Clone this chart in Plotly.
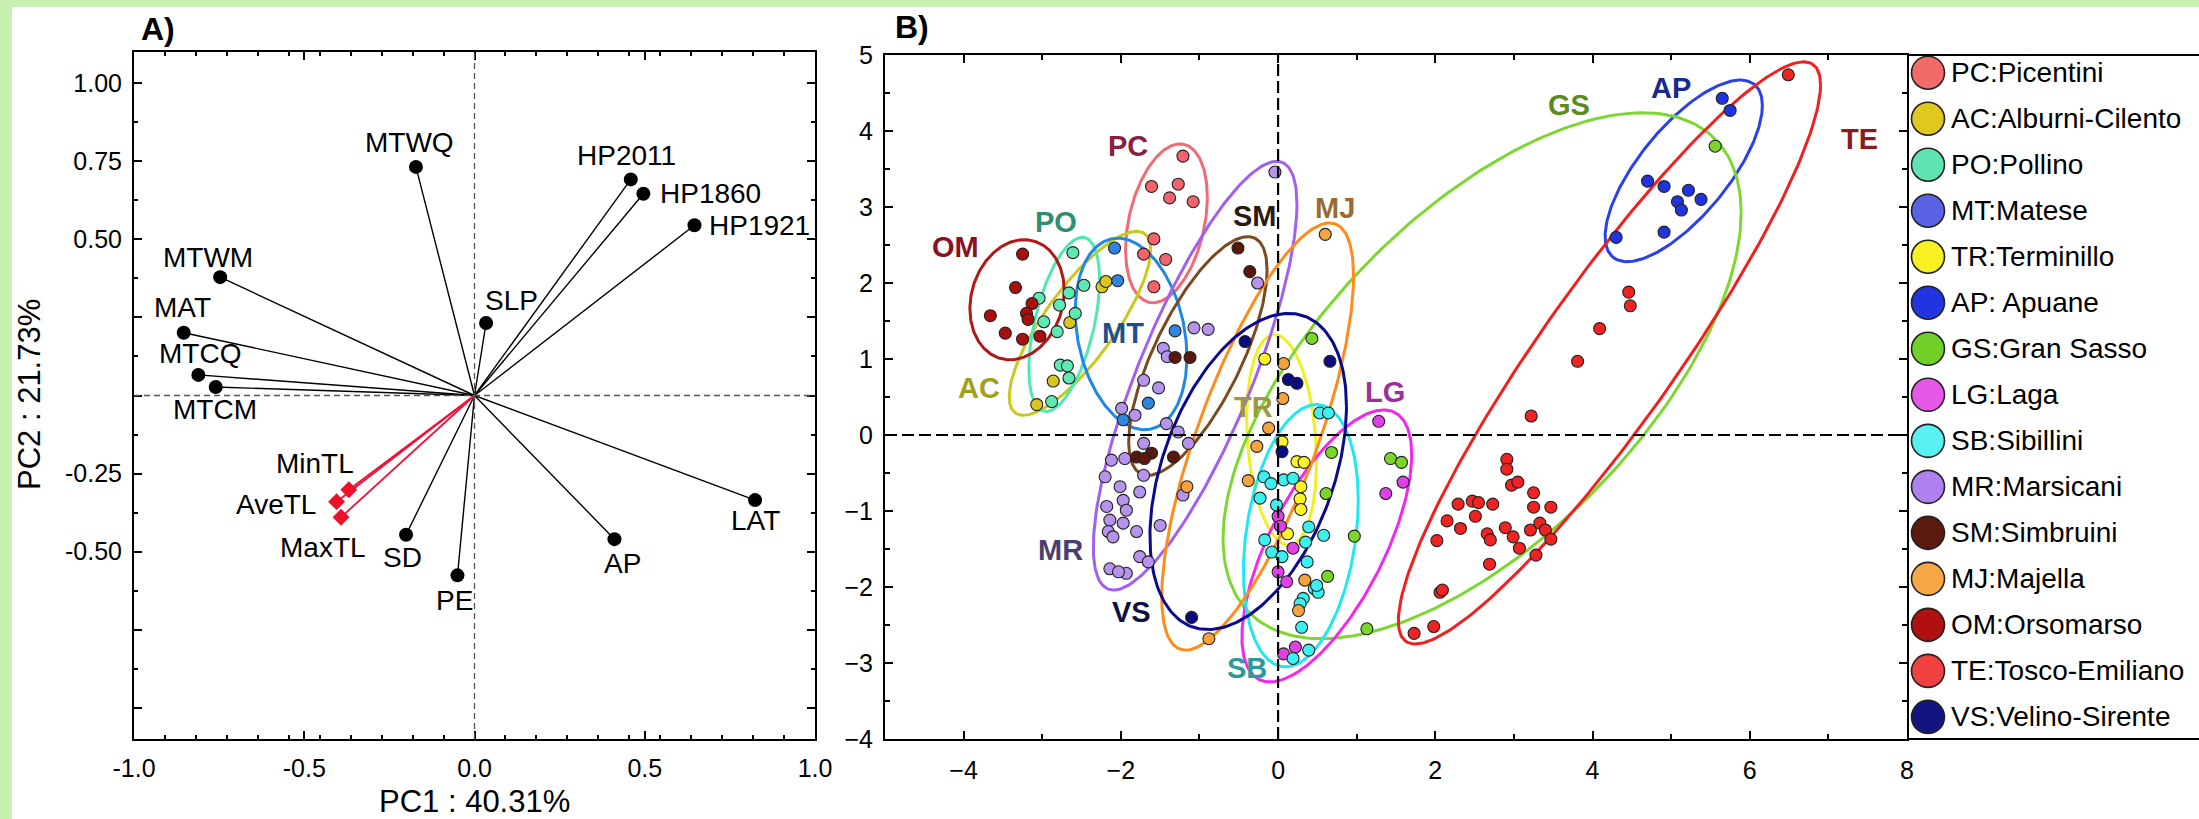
import numpy as np
import plotly.graph_objects as go

W, H = 2199, 819

# ---------------- Panel A data (loadings) ----------------
var_names = ["MTWQ", "HP2011", "HP1860", "HP1921", "MTWM", "SLP", "MAT", "MTCQ", "MTCM", "SD", "PE", "AP", "LAT"]
var_pc1 = [-0.172, 0.459, 0.496, 0.646, -0.747, 0.034, -0.854, -0.811, -0.760, -0.201, -0.050, 0.411, 0.824]
var_pc2 = [0.732, 0.692, 0.646, 0.545, 0.379, 0.232, 0.201, 0.066, 0.027, -0.446, -0.576, -0.460, -0.335]
tl_names = ["MinTL", "AveTL", "MaxTL"]
tl_pc1 = [-0.369, -0.405, -0.392]
tl_pc2 = [-0.302, -0.340, -0.390]

# ---------------- Panel B data (scores) ----------------
group_codes = ["PC", "AC", "PO", "MT", "TR", "AP", "GS", "LG", "SB", "MR", "SM", "MJ", "OM", "TE", "VS"]
legend_names = ["PC:Picentini", "AC:Alburni-Cilento", "PO:Pollino", "MT:Matese", "TR:Terminillo",
                "AP: Apuane", "GS:Gran Sasso", "LG:Laga", "SB:Sibillini", "MR:Marsicani",
                "SM:Simbruini", "MJ:Majella", "OM:Orsomarso", "TE:Tosco-Emiliano", "VS:Velino-Sirente"]

PC_x = [-1.21, -1.61, -1.27, -1.38, -1.08, -1.58, -1.71, -1.43, -1.58]
PC_y = [3.67, 3.27, 3.30, 3.12, 3.07, 2.58, 2.38, 2.31, 1.95]
AC_x = [-2.24, -2.19, -2.65, -2.86, -3.07]
AC_y = [1.95, 2.02, 1.48, 0.71, 0.40]
PO_x = [-2.61, -2.47, -3.04, -2.66, -2.78, -2.58, -2.98, -2.81, -2.77, -2.68, -2.66, -2.88]
PO_y = [2.40, 1.97, 1.80, 1.87, 1.71, 1.60, 1.49, 1.36, 0.92, 0.91, 0.75, 0.44]
MT_x = [-2.08, -2.04, -1.31, -1.65, -1.97]
MT_y = [2.46, 2.03, 1.37, 0.42, 0.20]
TR_x = [-0.17, 0.05, 0.24, 0.33, 0.29, 0.28, 0.29, 0.12]
TR_y = [1.00, -0.09, -0.35, -0.36, -0.68, -0.84, -0.98, -1.30]
AP_x = [5.65, 5.75, 4.70, 4.91, 5.22, 5.38, 5.08, 5.13, 4.91, 4.30]
AP_y = [4.43, 4.27, 3.34, 3.27, 3.22, 3.10, 3.07, 2.96, 2.67, 2.60]
GS_x = [5.56, 0.43, 0.68, 1.43, 1.57, 0.61, 0.97, 0.63, 1.13]
GS_y = [3.80, 1.27, -0.23, -0.31, -0.36, -0.77, -1.33, -1.86, -2.55]
LG_x = [1.28, 1.59, 1.37, 0.00, 0.03, 0.19, 0.00, 0.11, 0.07, 0.22]
LG_y = [0.18, -0.62, -0.77, -1.07, -1.20, -1.49, -1.80, -1.93, -2.88, -2.79]
SB_x = [0.53, 0.64, -0.18, -0.09, 0.07, 0.19, -0.23, -0.02, 0.39, 0.58, -0.17, -0.08,
        0.05, 0.35, 0.37, 0.46, 0.51, 0.49, 0.32, 0.28, 0.30, 0.39, 0.19]
SB_y = [0.29, 0.29, -0.55, -0.64, -0.59, -0.57, -0.83, -0.92, -1.21, -1.32, -1.38, -1.54,
        -1.60, -1.41, -1.67, -2.02, -2.07, -1.98, -2.15, -2.22, -2.53, -2.83, -2.94]
MR_x = [-0.04, -0.26, -1.07, -0.89, -1.46, -1.41, -1.71, -1.52, -1.99, -1.82, -1.42, -1.27,
        -1.14, -1.71, -2.12, -1.95, -2.20, -1.71, -2.01, -1.76, -1.21, -2.18, -1.97, -1.93,
        -2.14, -1.97, -1.80, -2.16, -1.50, -2.10, -1.76, -1.65, -2.14, -1.93, -2.03]
MR_y = [3.46, 2.00, 1.41, 1.39, 1.14, 1.03, 0.72, 0.62, 0.35, 0.26, 0.15, 0.04,
        -0.11, -0.11, -0.33, -0.31, -0.55, -0.53, -0.68, -0.75, -0.79, -0.94, -0.86, -0.99,
        -1.12, -1.16, -1.27, -1.27, -1.19, -1.34, -1.60, -1.67, -1.76, -1.82, -1.80]
SM_x = [-0.51, -0.36, -1.31, -1.12, -1.80, -1.61, -1.33, -1.70]
SM_y = [2.46, 2.15, 1.02, 1.02, -0.29, -0.24, -0.29, -0.31]
MJ_x = [0.60, 0.07, 0.06, -0.12, -0.27, -0.38, -1.16, 0.34, 0.26, -0.88]
MJ_y = [2.64, 0.94, 0.48, 0.09, -0.15, -0.60, -0.68, -1.91, -2.31, -2.68]
OM_x = [-3.25, -3.34, -3.66, -3.13, -3.20, -3.18, -3.47, -3.25, -3.03]
OM_y = [2.38, 1.94, 1.57, 1.73, 1.60, 1.52, 1.34, 1.26, 1.30]
TE_x = [6.49, 4.46, 4.48, 4.09, 3.81, 3.22, 2.91, 2.91, 2.97, 3.05, 3.25, 3.25, 3.47, 2.29,
        2.47, 2.55, 2.73, 2.51, 2.15, 2.32, 2.02, 2.66, 2.70, 2.89, 2.99, 3.21, 3.33, 3.40,
        3.47, 3.07, 3.28, 2.69, 2.06, 2.09, 1.98, 1.73]
TE_y = [4.74, 1.88, 1.70, 1.40, 0.97, 0.25, -0.32, -0.45, -0.66, -0.62, -0.76, -0.95, -0.95, -0.91,
        -0.87, -0.89, -0.91, -1.07, -1.13, -1.23, -1.39, -1.30, -1.38, -1.22, -1.34, -1.25, -1.16, -1.25,
        -1.37, -1.49, -1.58, -1.70, -2.07, -2.04, -2.52, -2.61]
VS_x = [-0.42, 0.66, 0.13, 0.24, 0.05, -1.10]
VS_y = [1.23, 0.97, 0.73, 0.68, -0.22, -2.40]

# confidence ellipses: centre, half-extent in x and y, and correlation-like tilt
ell_cx = [-1.42, -2.52, -2.72, -1.87, 0.045, 5.16, 2.595, 0.62, 0.29, -1.055, -1.02, -0.26, -3.32, 4.215, -0.38]
ell_cy = [2.785, 1.47, 1.455, 1.33, -0.065, 3.475, 0.78, -1.46, -1.325, 0.78, 1.04, -0.02, 1.78, 1.08, -0.48]
ell_rx = [0.52, 0.90, 0.45, 0.71, 0.445, 1.00, 3.295, 1.08, 0.73, 1.295, 0.88, 1.22, 0.60, 2.685, 1.25]
ell_ry = [1.045, 1.21, 1.145, 1.26, 1.385, 1.195, 3.46, 1.79, 1.725, 2.82, 1.57, 2.81, 0.79, 3.83, 2.08]
ell_r = [0.33, 0.80, 0.51, -0.24, -0.20, 0.72, 0.62, 0.67, 0.27, 0.80, 0.72, 0.75, 0.15, 0.92, 0.41]

# group text labels in panel B
glabel_x = [-1.91, -3.80, -2.82, -1.97, -0.31, 5.00, 3.70, 1.36, -0.40, -2.77, -0.29, 0.73, -4.10, 7.40, -1.86]
glabel_y = [3.80, 0.62, 2.80, 1.34, 0.37, 4.56, 4.34, 0.57, -3.07, -1.51, 2.88, 2.99, 2.47, 3.90, -2.33]

# ---------------- styles ----------------
FONT = "Liberation Sans, Arial, sans-serif"
point_colors = {"PC": "#F4626C", "AC": "#D9C61E", "PO": "#5EE8B2", "MT": "#2E86E0", "TR": "#FFF22A",
                "AP": "#1F33E0", "GS": "#7BD52A", "LG": "#E040E8", "SB": "#3CF0F0", "MR": "#B794EC",
                "SM": "#5A180C", "MJ": "#F5A33C", "OM": "#A8100E", "TE": "#F02222", "VS": "#0C0C80"}
legend_colors = {"PC": "#F26B6B", "AC": "#E0C81E", "PO": "#5FE3B0", "MT": "#5A63E3", "TR": "#F8F020",
                 "AP": "#2233E0", "GS": "#70D028", "LG": "#E858E8", "SB": "#58F0F0", "MR": "#B080F0",
                 "SM": "#5A1A10", "MJ": "#F5A845", "OM": "#B01010", "TE": "#F04040", "VS": "#141480"}
ellipse_colors = {"PC": "#F26A74", "AC": "#C8C81E", "PO": "#50E8B0", "MT": "#1E88E8", "TR": "#F0F020",
                  "AP": "#2A40E8", "GS": "#7CD830", "LG": "#F028F0", "SB": "#20E8F0", "MR": "#A060F0",
                  "SM": "#7B4A1E", "MJ": "#FF8C1A", "OM": "#B01818", "TE": "#F02020", "VS": "#0A0A90"}
label_colors = {"PC": "#8A2040", "AC": "#A0A020", "PO": "#2E8E70", "MT": "#1E4E8C", "TR": "#9C9A40",
                "AP": "#1A2A8A", "GS": "#5A8A20", "LG": "#9A309A", "SB": "#2A9A9A", "MR": "#4A3F70",
                "SM": "#2A1A10", "MJ": "#9A6A30", "OM": "#8B1020", "TE": "#8B1A1A", "VS": "#101040"}
# label offsets in panel A (pixels): xshift, yshift, xanchor
var_label_off = {"MTWQ": (-6, 24, "center"), "HP2011": (-4, 24, "center"), "HP1860": (15, 0, "left"),
                 "HP1921": (13, 0, "left"), "MTWM": (-12, 20, "center"), "SLP": (25, 23, "center"),
                 "MAT": (-1, 25, "center"), "MTCQ": (2, 21, "center"), "MTCM": (-1, -22, "center"),
                 "SD": (-4, -23, "center"), "PE": (-3, -25, "center"), "AP": (8, -24, "center"),
                 "LAT": (0, -20, "center"), "MinTL": (-34, 26, "center"), "AveTL": (-19, -3, "right"),
                 "MaxTL": (-18, -30, "center")}

data_B = {"PC": (PC_x, PC_y), "AC": (AC_x, AC_y), "PO": (PO_x, PO_y), "MT": (MT_x, MT_y),
          "TR": (TR_x, TR_y), "AP": (AP_x, AP_y), "GS": (GS_x, GS_y), "LG": (LG_x, LG_y),
          "SB": (SB_x, SB_y), "MR": (MR_x, MR_y), "SM": (SM_x, SM_y), "MJ": (MJ_x, MJ_y),
          "OM": (OM_x, OM_y), "TE": (TE_x, TE_y), "VS": (VS_x, VS_y)}

# pixel geometry
A_x0, A_x1, A_y0, A_y1 = 134, 815, 52, 739
B_x0, B_x1, B_y0, B_y1 = 885, 1907, 55, 739


def px(xp):
    return xp / W


def py(yp):
    return 1 - yp / H


fig = go.Figure()

# ---- Panel A ----
for i, n in enumerate(var_names):
    fig.add_trace(go.Scatter(x=[0, var_pc1[i]], y=[0, var_pc2[i]], mode="lines",
                             line=dict(color="black", width=1.4), xaxis="x", yaxis="y",
                             showlegend=False, hoverinfo="skip"))
for i, n in enumerate(tl_names):
    fig.add_trace(go.Scatter(x=[0, tl_pc1[i]], y=[0, tl_pc2[i]], mode="lines",
                             line=dict(color="#F0103A", width=1.8), xaxis="x", yaxis="y",
                             showlegend=False, hoverinfo="skip"))
fig.add_trace(go.Scatter(x=var_pc1, y=var_pc2, mode="markers",
                         marker=dict(size=14, color="black"), xaxis="x", yaxis="y", showlegend=False))
fig.add_trace(go.Scatter(x=tl_pc1, y=tl_pc2, mode="markers",
                         marker=dict(size=13, color="#F0102A", symbol="diamond"), xaxis="x", yaxis="y",
                         showlegend=False))

# ---- Panel B ellipses ----
t = np.linspace(0, 2 * np.pi, 241)
for i, g in enumerate(group_codes):
    phi = np.arccos(ell_r[i])
    ex = ell_cx[i] + ell_rx[i] * np.cos(t)
    ey = ell_cy[i] + ell_ry[i] * np.cos(t - phi)
    fig.add_trace(go.Scatter(x=ex, y=ey, mode="lines", line=dict(color=ellipse_colors[g], width=3),
                             xaxis="x2", yaxis="y2", showlegend=False, hoverinfo="skip"))

# ---- Panel B points ----
for g in group_codes:
    gx, gy = data_B[g]
    fig.add_trace(go.Scatter(x=gx, y=gy, mode="markers", name=g,
                             marker=dict(size=12, color=point_colors[g], line=dict(color="#222222", width=1.1)),
                             xaxis="x2", yaxis="y2", showlegend=False))

# ---- Legend (custom) ----
leg_idx = list(range(len(group_codes)))
fig.add_trace(go.Scatter(x=[21] * len(group_codes), y=leg_idx, mode="markers",
                         marker=dict(size=33, color=[legend_colors[g] for g in group_codes],
                                     line=dict(color="#222222", width=1.6)),
                         xaxis="x3", yaxis="y3", showlegend=False, hoverinfo="skip"))

annotations = []
for i, n in enumerate(var_names + tl_names):
    xv = (var_pc1 + tl_pc1)[i]
    yv = (var_pc2 + tl_pc2)[i]
    dx, dy, xa = var_label_off[n]
    annotations.append(dict(x=xv, y=yv, xref="x", yref="y", text=n, showarrow=False,
                            xshift=dx, yshift=dy, xanchor=xa, yanchor="middle",
                            font=dict(family=FONT, size=28, color="black")))
for i, g in enumerate(group_codes):
    annotations.append(dict(x=glabel_x[i], y=glabel_y[i], xref="x2", yref="y2", text="<b>" + g + "</b>",
                            showarrow=False, xanchor="center", yanchor="middle",
                            font=dict(family=FONT, size=29, color=label_colors[g])))
    annotations.append(dict(x=42, y=i, xref="x3", yref="y3", text=legend_names[i], showarrow=False,
                            xanchor="left", yanchor="middle",
                            font=dict(family=FONT, size=28, color="black")))
# titles
annotations += [
    dict(x=px(158), y=py(29), xref="paper", yref="paper", text="<b>A)</b>", showarrow=False,
         xanchor="center", yanchor="middle", font=dict(family=FONT, size=32, color="black")),
    dict(x=px(912), y=py(27), xref="paper", yref="paper", text="<b>B)</b>", showarrow=False,
         xanchor="center", yanchor="middle", font=dict(family=FONT, size=32, color="black")),
    dict(x=px(474), y=py(801), xref="paper", yref="paper", text="PC1 : 40.31%", showarrow=False,
         xanchor="center", yanchor="middle", font=dict(family=FONT, size=31, color="black")),
    dict(x=px(29), y=py(395), xref="paper", yref="paper", text="PC2 : 21.73%", showarrow=False,
         textangle=-90, xanchor="center", yanchor="middle", font=dict(family=FONT, size=31, color="black")),
]

shapes = [
    # white page over the green frame
    dict(type="rect", xref="paper", yref="paper", x0=px(12), x1=1.0, y0=0, y1=py(7),
         fillcolor="white", line=dict(width=0), layer="below"),
    # panel A dashed origin lines
    dict(type="line", xref="x", yref="y", x0=0, x1=0, y0=-1.1, y1=1.1,
         line=dict(color="#555555", width=1.3, dash="6px,4px")),
    dict(type="line", xref="x", yref="y", x0=-1, x1=1, y0=0, y1=0,
         line=dict(color="#555555", width=1.3, dash="6px,4px")),
    # panel B dashed origin lines
    dict(type="line", xref="x2", yref="y2", x0=0, x1=0, y0=-4, y1=5,
         line=dict(color="black", width=2.2, dash="12px,5px")),
    dict(type="line", xref="x2", yref="y2", x0=-5, x1=8, y0=0, y1=0,
         line=dict(color="black", width=2.2, dash="12px,5px")),
    # legend frame top / bottom
    dict(type="line", xref="paper", yref="paper", x0=px(B_x1), x1=1.0, y0=py(B_y0), y1=py(B_y0),
         line=dict(color="black", width=2)),
    dict(type="line", xref="paper", yref="paper", x0=px(B_x1), x1=1.0, y0=py(B_y1), y1=py(B_y1),
         line=dict(color="black", width=2)),
]

axis_common = dict(showgrid=False, zeroline=False, showline=True, linecolor="black", linewidth=2,
                   mirror="ticks", ticks="inside", tickcolor="black", tickwidth=1.5, automargin=False,
                   tickfont=dict(family=FONT, size=25, color="black"))

fig.update_layout(
    template="none",
    width=W, height=H, margin=dict(l=0, r=0, t=0, b=0, pad=0, autoexpand=False),
    paper_bgcolor="#C8F0B0", plot_bgcolor="white",
    font=dict(family=FONT, color="black"),
    showlegend=False,
    xaxis=dict(domain=[px(A_x0), px(A_x1)], range=[-1, 1],
               tickvals=[-1, -0.5, 0, 0.5, 1], ticktext=["-1.0", "-0.5", "0.0", "0.5", "1.0"],
               ticklen=8, ticklabelstandoff=6,
               minor=dict(ticks="inside", dtick=1 / 11, tick0=-1, ticklen=4, tickcolor="black"),
               anchor="y", **axis_common),
    yaxis=dict(domain=[py(A_y1), py(A_y0)], range=[-1.1, 1.1],
               tickvals=[-1, -0.75, -0.5, -0.25, 0, 0.25, 0.5, 0.75, 1],
               ticktext=["", "", "-0.50", "-0.25", "", "", "0.50", "0.75", "1.00"],
               ticklen=8, ticklabelstandoff=5,
               minor=dict(ticks="inside", dtick=0.125, tick0=0, ticklen=4, tickcolor="black"),
               anchor="x", **axis_common),
    xaxis2=dict(domain=[px(B_x0), px(B_x1)], range=[-5, 8],
                tickvals=[-4, -2, 0, 2, 4, 6, 8], ticklen=8, ticklabelstandoff=8,
                minor=dict(ticks="inside", dtick=1, tick0=0, ticklen=5, tickcolor="black"),
                anchor="y2", **axis_common),
    yaxis2=dict(domain=[py(B_y1), py(B_y0)], range=[-4, 5], dtick=1, ticklen=8, ticklabelstandoff=5,
                minor=dict(ticks="inside", dtick=0.5, tick0=0, ticklen=5, tickcolor="black"),
                anchor="x2", **axis_common),
    xaxis3=dict(domain=[px(B_x1), 1.0], range=[0, W - B_x1], visible=False, anchor="y3", automargin=False),
    yaxis3=dict(domain=[py(B_y1), py(B_y0)], range=[14.48, -0.385], visible=False, anchor="x3",
                automargin=False),
    annotations=annotations,
    shapes=shapes,
)

fig.write_html("out.html")
